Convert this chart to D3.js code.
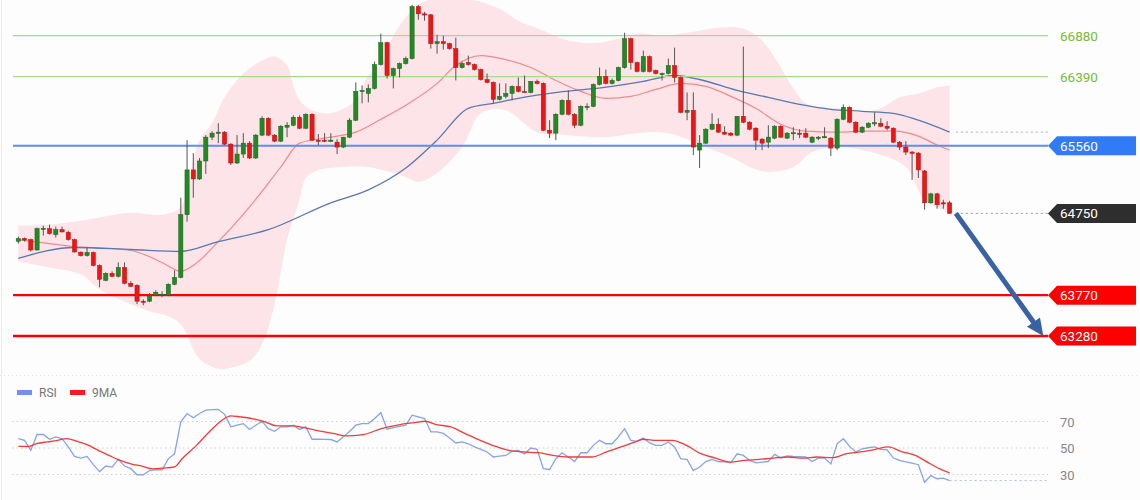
<!DOCTYPE html>
<html><head><meta charset="utf-8">
<script src="https://cdn.jsdelivr.net/npm/d3@7"></script>
<style>body{margin:0;background:#fdfdfd;} svg{display:block;font-family:Roboto, Arial, sans-serif;}</style>
</head><body><svg id="c" width="1140" height="500"></svg>
<script>
// ---- candle data (index 0..149) ----
const openP=[64416,64448,64436,64311,64561,64567,64496,64555,64523,64436,
64285,64245,64281,64126,63948,64031,63995,64102,63912,63888,
63697,63697,63769,63775,63769,63900,63983,64734,65271,65163,
65378,65664,65718,65724,65580,65354,65461,65592,65414,65688,
65890,65688,65616,65783,65807,65902,65771,65938,65628,65628,
65622,65604,65545,65664,65867,66212,66188,66248,66534,66796,
66403,66486,66546,66606,67230,67142,67130,66784,66808,66784,
66725,66498,66558,66534,66474,66355,66320,66117,66153,66188,
66272,66212,66200,66332,66308,65747,65712,65938,66105,65938,
65807,66033,66033,66296,66391,66308,66343,66498,66844,66558,
66451,66630,66463,66415,66427,66522,66379,65962,65986,65509,
65592,65759,65819,65724,65712,65688,65914,65843,65771,65640,
65604,65652,65795,65652,65712,65712,65712,65604,65652,65664,
65652,65533,65878,66022,65843,65724,65783,65831,65831,65795,
65771,65604,65545,65485,65473,65259,64877,64984,64877,64877];
const highP=[64472,64460,64448,64579,64603,64615,64591,64591,64543,64448,
64293,64341,64293,64138,64043,64055,64162,64162,63936,63900,
63721,63793,63828,63816,63912,64067,64937,65628,65473,65414,
65688,65735,65831,65735,65592,65688,65712,65616,65700,65914,
65902,65700,65807,65843,65926,65926,65950,65950,65700,65712,
65712,65640,65664,65890,66320,66284,66296,66570,66904,66808,
66498,66558,66630,67250,67250,67166,67142,66892,66880,66796,
66856,66570,66642,66546,66486,66427,66332,66308,66308,66284,
66379,66403,66332,66355,66320,65867,65950,66117,66224,65950,
66045,66069,66308,66498,66474,66367,66510,66916,66856,66570,
66701,66642,66474,66439,66606,66737,66391,66200,66200,65688,
65771,65950,65890,65795,65724,65914,66749,65855,65783,65652,
65807,65807,65807,65724,65783,65759,65771,65676,65676,65783,
65664,65890,66057,66033,65855,65795,65843,65962,65890,65855,
65783,65616,65616,65497,65485,65271,64996,64996,64913,64901];
const lowP=[64388,64412,64293,64305,64484,64496,64460,64520,64424,64281,
64233,64233,64114,63864,63936,63983,63983,63900,63864,63662,
63650,63685,63757,63745,63757,63888,63972,64651,64937,65151,
65223,65628,65592,65568,65330,65342,65414,65402,65402,65676,
65676,65604,65604,65664,65795,65759,65759,65616,65568,65604,
65604,65461,65533,65652,65855,66069,66081,66236,66522,66367,
66248,66379,66534,66594,67071,67059,66725,66665,66713,66713,
66343,66486,66522,66463,66343,66308,66069,66105,66129,66105,
66200,66200,66188,66296,65735,65652,65628,65926,65926,65771,
65795,65986,66022,66284,66296,66296,66332,66486,66474,66439,
66439,66439,66415,66343,66415,66320,65950,65867,65449,65294,
65580,65747,65712,65688,65676,65676,65831,65747,65509,65509,
65533,65640,65652,65640,65628,65652,65652,65592,65628,65652,
65437,65509,65867,65831,65712,65712,65771,65795,65783,65747,
65592,65509,65449,65151,65175,64794,64865,64806,64806,64746];
const closeP=[64448,64430,64311,64567,64571,64508,64555,64528,64436,64287,
64245,64281,64126,63960,64031,63995,64102,63912,63876,63697,
63685,63769,63805,63781,63900,63983,64734,65271,65163,65378,
65664,65712,65724,65580,65354,65461,65592,65414,65688,65890,
65688,65616,65795,65807,65902,65771,65938,65628,65616,65622,
65628,65545,65664,65867,66212,66224,66248,66534,66796,66403,
66486,66546,66606,67230,67142,67130,66784,66808,66784,66725,
66498,66546,66534,66474,66355,66320,66117,66153,66188,66272,
66212,66206,66332,66308,65747,65712,65938,66105,65938,65807,
66033,66033,66296,66391,66308,66343,66498,66844,66558,66451,
66630,66451,66427,66427,66522,66379,65962,65986,65545,65592,
65759,65819,65724,65700,65688,65914,65843,65759,65628,65592,
65664,65795,65664,65712,65718,65706,65664,65664,65664,65670,
65533,65878,66022,65843,65724,65783,65831,65837,65795,65771,
65604,65545,65485,65473,65271,64877,64984,64853,64865,64750];

// ---- indicator readings (candle index, value) ----
const maRedIdx=[0,9,18,23,26,28,32,37,42,45,50,54,58,62,67,70,74,78,82,86,90,94,98,102,106,110,114,118,122,126,131,136,140,144,147,149];
const maRedVal=[64436,64353,64305,64162,64055,64126,64412,64829,65306,65592,65664,65724,65878,66045,66308,66522,66641,66594,66498,66343,66212,66129,66153,66236,66308,66272,66153,66010,65819,65736,65724,65736,65736,65676,65569,65509];
const maBlueIdx=[0,9,18,26,32,40,50,56,62,67,72,76,80,85,95,100,105,109,115,120,125,130,135,140,144,149];
const maBlueVal=[64210,64341,64317,64293,64412,64555,64877,65032,65294,65628,66010,66069,66129,66188,66272,66332,66403,66355,66224,66141,66057,65998,65974,65950,65867,65724];
const bbUpIdx=[0,5,11,18,23,26,28,29,31,33,36,39,41,43,44,45,47,50,54,56,58,60,63,66,72,77,80,84,87,90,93,96,99,103,106,109,112,116,119,121,124,126,128,131,135,138,141,144,147,149];
const bbUpVal=[64603,64615,64675,64758,64734,64830,65390,65628,65831,66141,66427,66582,66630,66522,66284,66105,65986,65950,66105,66403,66522,66880,67178,67321,67321,67202,67059,66940,66844,66796,66796,66844,66904,66880,66904,66940,66975,66963,66820,66618,66248,66069,66022,66010,65962,66010,66141,66188,66260,66284];
const bbLoIdx=[0,5,10,13,18,21,24,26,29,32,34,37,39,41,43,45,46,48,52,56,62,64,67,71,74,78,83,88,94,99,104,110,115,117,120,124,127,131,137,142,145,149];
const bbLoVal=[64174,64102,64019,63840,63661,63578,63518,63420,63006,62887,62900,62982,63185,63661,64436,64913,65175,65271,65306,65306,65187,65128,65235,65545,65950,65986,65724,65688,65664,65712,65712,65545,65390,65306,65247,65306,65485,65545,65473,65306,64913,64758];

// ---- RSI ----
const rsiVal=[57,55.8,48.2,60.2,60.2,56.6,58.4,57,50.8,43.6,
42.4,43.6,37.4,32.2,36.4,35.6,41.4,36.4,34.4,29.8,
29.8,33,33.6,33.6,41.8,45.6,69.8,76,72.8,76,
78.6,79,79.2,75.4,66,67.2,68.4,64,67.2,70.2,
64.6,62.6,66,66,67.2,64,66,56.6,56.6,56.5,
56.4,54.6,58.4,62.5,67.2,68.4,68.4,72.2,76.6,64.2,
65.4,66.3,67.2,74.8,73.5,72.2,62.2,62.2,61,57.5,
53.8,54.6,53.2,50.8,49,47,43.2,43.8,44.4,47.5,
48.2,45.6,50,49,34.4,33.8,41.8,46.4,43.2,39.8,
46.4,46.4,52,55.8,53.2,53.2,58.4,64.6,55.8,55,
57.6,53.8,52,52,54.6,50.8,41.8,41.4,33,35.6,
39.8,41.4,39.8,39.5,38.8,45.6,44.4,40.6,38.8,39.4,
39.8,45.2,42.4,44,43.6,43.4,43.2,39.8,42.4,42.4,
38,53.2,57,51.2,47,49.4,50.2,50.8,49,48.6,
42.4,40.6,39.6,38.6,37.4,24.2,29.2,26.8,27.2,25.4];
const rsiMaIdx=[0,1.7,2.9,4.6,5.8,7.8,9.3,11,12.8,14.5,16.3,18,19.8,21.5,23.2,25,26.2,28.5,30.8,32.6,34,35.5,37.8,39.5,41.3,43.6,45.9,48.3,50.6,52.3,55.2,58.1,61.1,63.4,65.1,66.9,69.2,71.5,73.9,76.2,78.5,80.8,83.2,85.5,88.1,91.8,94.1,96.4,98.7,99.9,102.2,104.6,106.9,109.2,111.5,113.9,116.2,118.5,120.8,123.2,125.5,127.8,130.2,132.5,134.8,137.1,139.2,141.2,143.5,145.9,147.6,149];
const rsiMaVal=[51.3,51.3,53.3,54.6,55.3,57.1,55.1,52.5,48.2,44.4,40.6,38.1,36.3,34.3,34.8,35.8,41.9,52,63.4,71,74.3,73.5,71.8,69.7,66.7,66.7,65.2,62.7,60.9,59.1,60.1,64.7,67.7,69.2,70.2,67.7,65.9,60.9,55.8,51.5,48.2,47,46.5,44.4,43.2,43.2,47,50.8,54.6,56.6,55.8,55.8,52,45.7,42.4,39.4,40.6,41.4,42.4,43.2,42.4,43.2,42.7,45.7,47,49,50.8,47.5,44.4,38.1,33.8,31.3];
const rsiTicks=[70,50,30];

// ---- levels ----
const greenLevels=[66880,66390];
const blueLevel=65560;
const redLevels=[63770,63280];
const lastPrice=64750;
const arrowFrom=[150,64750], arrowTo=[164,63280];

const svg=d3.select("#c");
const x=d3.scaleLinear().domain([0,149]).range([18.3,949.6]);
const y=d3.scaleLinear().domain([63280,66880]).range([336,35.7]);
const yr=d3.scaleLinear().domain([30,70]).range([474.5,421.5]);
const lineL=13, lineR=1048;

svg.append("rect").attr("width",1140).attr("height",500).attr("fill","#fdfdfd");
svg.append("line").attr("x1",1.5).attr("x2",1.5).attr("y1",0).attr("y2",500).attr("stroke","#e8ecef");
svg.append("defs").append("clipPath").attr("id","mainclip").append("rect").attr("x",0).attr("y",0).attr("width",1140).attr("height",374);
const main=svg.append("g").attr("clip-path","url(#mainclip)");

// Bollinger band
const up=bbUpIdx.map((d,i)=>[x(d),y(bbUpVal[i])]);
const lo=bbLoIdx.map((d,i)=>[x(d),y(bbLoVal[i])]).reverse();
const cr=d3.line().curve(d3.curveCatmullRom.alpha(0.5));
main.append("path").attr("d",cr(up)+"L"+cr(lo).slice(1)+"Z").attr("fill","#fcdfe4").attr("opacity",0.85);

// MA lines
const mline=d3.line().curve(d3.curveMonotoneX);
main.append("path").attr("d",mline(maRedIdx.map((d,i)=>[x(d),y(maRedVal[i])]))).attr("fill","none").attr("stroke","#f08a8a").attr("stroke-width",1.2);
main.append("path").attr("d",mline(maBlueIdx.map((d,i)=>[x(d),y(maBlueVal[i])]))).attr("fill","none").attr("stroke","#5a78b0").attr("stroke-width",1.3);

// level lines
greenLevels.forEach(v=>{
  main.append("line").attr("x1",lineL).attr("x2",lineR).attr("y1",y(v)).attr("y2",y(v)).attr("stroke","#a9d98f").attr("stroke-width",1.2);
  svg.append("text").attr("x",1060).attr("y",y(v)+5).attr("fill","#78bb35").attr("font-size",13.5).text(v);
});
main.append("line").attr("x1",lineL).attr("x2",lineR).attr("y1",y(blueLevel)).attr("y2",y(blueLevel)).attr("stroke","#5b8ef0").attr("stroke-width",2);
redLevels.forEach(v=>{
  main.append("line").attr("x1",lineL).attr("x2",lineR).attr("y1",y(v)).attr("y2",y(v)).attr("stroke","#ff0000").attr("stroke-width",2.4);
});
// dotted extensions
main.append("line").attr("x1",x(150)).attr("x2",lineR).attr("y1",y(lastPrice)).attr("y2",y(lastPrice)).attr("stroke","#999").attr("stroke-dasharray","2,3");
main.append("line").attr("x1",x(150)).attr("x2",lineR).attr("y1",y(maBlueVal[maBlueVal.length-1])).attr("y2",y(maBlueVal[maBlueVal.length-1])).attr("stroke","#9fb0d0").attr("stroke-dasharray","2,3");

// candles
const cg=main.append("g");
const bw=4.2;
openP.forEach((o,i)=>{
  const c=closeP[i], up=c>=o;
  const cx=x(i);
  cg.append("line").attr("x1",cx).attr("x2",cx).attr("y1",y(highP[i])).attr("y2",y(lowP[i])).attr("stroke","#555").attr("stroke-width",1);
  const top=y(Math.max(o,c)), bot=y(Math.min(o,c));
  cg.append("rect").attr("x",cx-bw/2).attr("y",top).attr("width",bw).attr("height",Math.max(1.2,bot-top))
    .attr("fill",up?"#238a23":"#ee1515").attr("stroke",up?"#1b5e1b":"#b51010").attr("stroke-width",0.5);
});

// label boxes
function tag(v,fill){
  const yc=y(v);
  svg.append("path").attr("d",`M1048,${yc}L1057,${yc-9.5}L1136,${yc-9.5}L1136,${yc+9.5}L1057,${yc+9.5}Z`).attr("fill",fill);
  svg.append("text").attr("x",1060).attr("y",yc+5).attr("fill","#fff").attr("font-size",13.5).text(v);
}
tag(blueLevel,"#2f7cf6");
tag(lastPrice,"#2e2e2e");
redLevels.forEach(v=>tag(v,"#ff0000"));

// arrow
const ax1=x(arrowFrom[0]), ay1=y(arrowFrom[1]), ax2=x(arrowTo[0]), ay2=y(arrowTo[1]);
const ang=Math.atan2(ay2-ay1,ax2-ax1), hl=17, hw=8;
const bx=ax2-hl*Math.cos(ang), by=ay2-hl*Math.sin(ang);
svg.append("line").attr("x1",ax1).attr("y1",ay1).attr("x2",bx+2*Math.cos(ang)).attr("y2",by+2*Math.sin(ang)).attr("stroke","#3a62a2").attr("stroke-width",5);
svg.append("path").attr("d",`M${ax2},${ay2}L${bx+hw*Math.sin(ang)},${by-hw*Math.cos(ang)}L${bx-hw*Math.sin(ang)},${by+hw*Math.cos(ang)}Z`).attr("fill","#3a62a2");

// separator
svg.append("line").attr("x1",0).attr("x2",1140).attr("y1",375.5).attr("y2",375.5).attr("stroke","#e2e2e2").attr("stroke-dasharray","1,3");

// RSI panel
rsiTicks.forEach(t=>{
  svg.append("line").attr("x1",12).attr("x2",lineR).attr("y1",yr(t)).attr("y2",yr(t)).attr("stroke","#cfcfcf").attr("stroke-dasharray","1.5,3");
  svg.append("text").attr("x",1060).attr("y",yr(t)+5).attr("fill","#888").attr("font-size",13).text(t);
});
svg.append("path").attr("d",d3.line()(rsiVal.map((v,i)=>[x(i),yr(v)]))).attr("fill","none").attr("stroke","#86a4ea").attr("stroke-width",1.3);
svg.append("line").attr("x1",x(149)).attr("x2",lineR).attr("y1",yr(rsiVal[149])).attr("y2",yr(rsiVal[149])).attr("stroke","#a9bdf0").attr("stroke-dasharray","2,3");
svg.append("path").attr("d",mline(rsiMaIdx.map((d,i)=>[x(d),yr(rsiMaVal[i])]))).attr("fill","none").attr("stroke","#f43a3a").attr("stroke-width",1.3);

// legend
svg.append("rect").attr("x",17).attr("y",390).attr("width",15).attr("height",5).attr("fill","#6f93e6");
svg.append("text").attr("x",39).attr("y",397).attr("fill","#777").attr("font-size",12).text("RSI");
svg.append("rect").attr("x",70).attr("y",390).attr("width",15).attr("height",5).attr("fill","#ff1a1a");
svg.append("text").attr("x",92).attr("y",397).attr("fill","#777").attr("font-size",12).text("9MA");
</script></body></html>
